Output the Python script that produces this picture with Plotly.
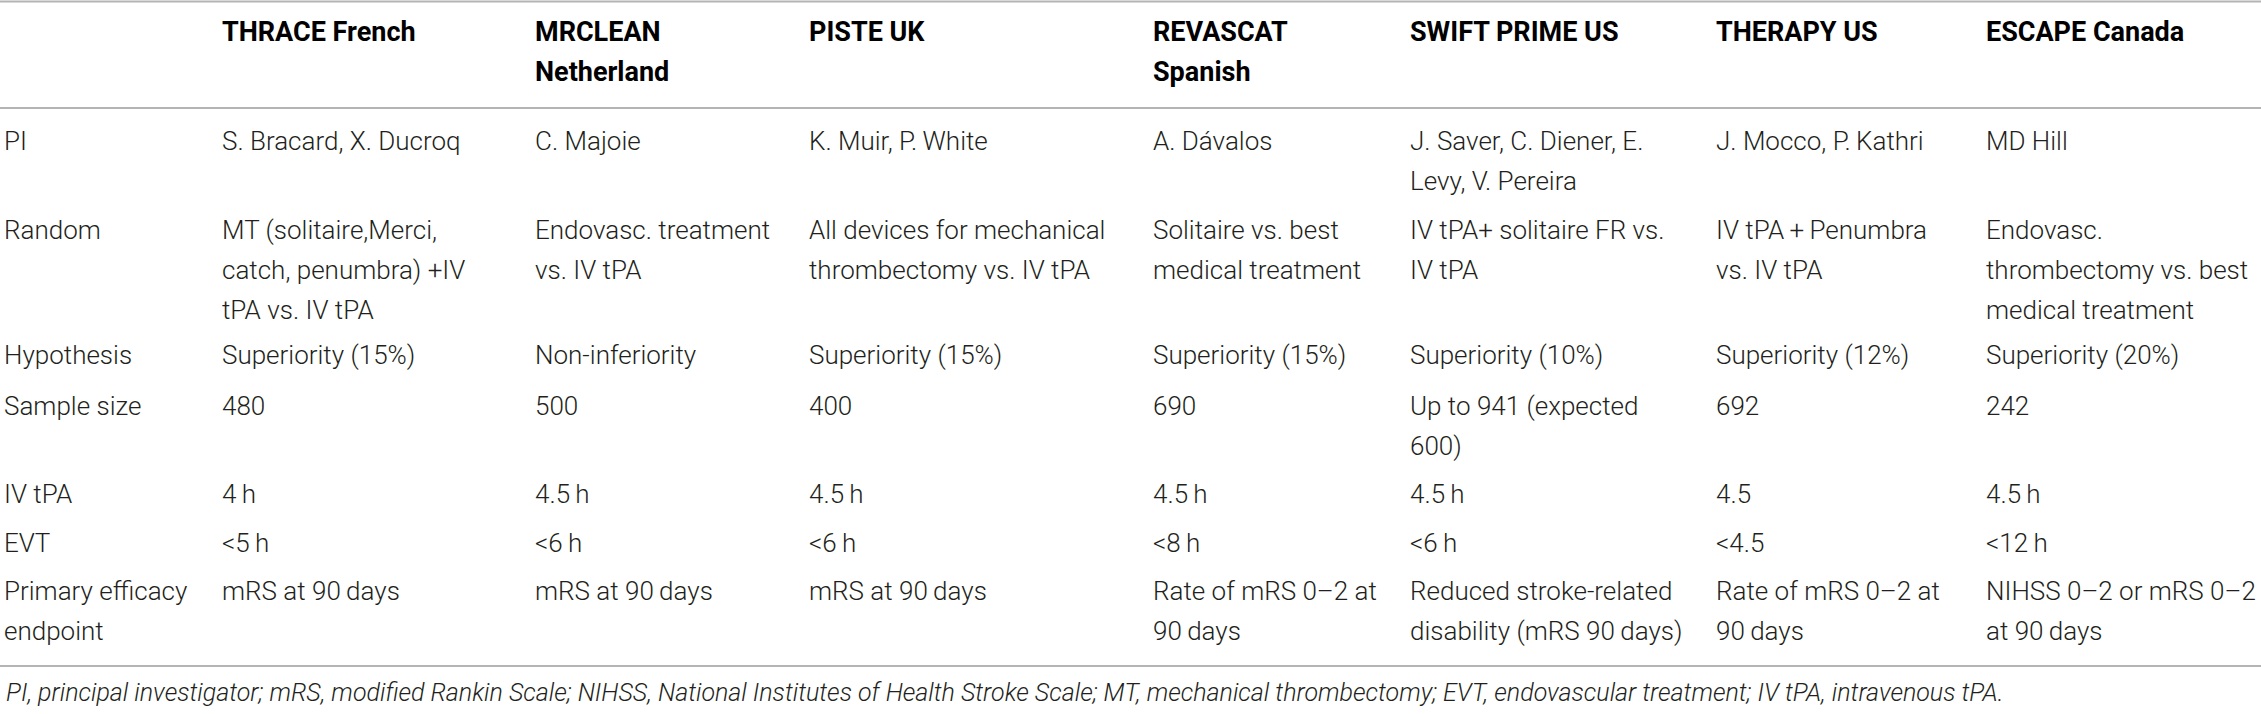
import plotly.graph_objects as go

W, H = 2261, 714

# ---- data ----
headers = ["THRACE French", "MRCLEAN<br>Netherland", "PISTE UK", "REVASCAT<br>Spanish",
           "SWIFT PRIME US", "THERAPY US", "ESCAPE Canada"]
row_labels = ["PI", "Random", "Hypothesis", "Sample size", "IV tPA", "EVT",
              "Primary efficacy<br>endpoint"]
thrace = ["S. Bracard, X. Ducroq", "MT (solitaire,Merci,<br>catch, penumbra) +IV<br>tPA vs. IV tPA",
          "Superiority (15%)", "480", "4\u2009h", "<5\u2009h", "mRS at 90\u2009days"]
mrclean = ["C. Majoie", "Endovasc. treatment<br>vs. IV tPA", "Non-inferiority", "500",
           "4.5\u2009h", "<6\u2009h", "mRS at 90\u2009days"]
piste = ["K. Muir, P.\u2009White", "All devices for mechanical<br>thrombectomy vs. IV tPA",
         "Superiority (15%)", "400", "4.5\u2009h", "<6\u2009h", "mRS at 90\u2009days"]
revascat = ["A. Dávalos", "Solitaire vs. best<br>medical treatment", "Superiority (15%)", "690",
            "4.5\u2009h", "<8\u2009h", "Rate of mRS 0–2 at<br>90\u2009days"]
swift = ["J. Saver, C. Diener, E.<br>Levy, V. Pereira", "IV tPA+ solitaire FR vs.<br>IV tPA",
         "Superiority (10%)", "Up to 941 (expected<br>600)", "4.5\u2009h", "<6\u2009h",
         "Reduced stroke-related<br>disability (mRS 90\u2009days)"]
therapy = ["J. Mocco, P.\u2009Kathri", "IV tPA\u2009+\u2009Penumbra<br>vs. IV tPA", "Superiority (12%)",
           "692", "4.5", "<4.5", "Rate of mRS 0–2 at<br>90\u2009days"]
escape = ["MD Hill", "Endovasc.<br>thrombectomy vs. best<br>medical treatment", "Superiority (20%)",
          "242", "4.5\u2009h", "<12\u2009h", "NIHSS 0–2 or mRS 0–2<br>at 90\u2009days"]
footnote = ("PI, principal investigator; mRS, modified Rankin Scale; NIHSS, National Institutes of "
            "Health Stroke Scale; MT, mechanical thrombectomy; EVT, endovascular treatment; "
            "IV tPA, intravenous tPA.")

columns = [thrace, mrclean, piste, revascat, swift, therapy, escape]

# ---- layout (pixel positions) ----
col_x = [2, 220, 533, 807, 1151, 1408, 1714, 1984]
header_y = 32
row_y = [141, 230, 355, 406, 494, 543, 591]
line_step = 40
rule_y = [1.5, 108, 666]
foot_y = 692

FONT = "Roboto, Liberation Sans, Arial, sans-serif"
BODY_SIZE = 26
HEAD_SIZE = 27
FOOT_SIZE = 25
TEXT_COL = "#231f20"

fig = go.Figure()
fig.add_trace(go.Scatter(x=[0, W], y=[0, H], mode="markers",
                         marker=dict(opacity=0), hoverinfo="skip", showlegend=False))

ann = []


def esc(s):
    return s.replace("<br>", "\n").replace("<", "&lt;").replace(">", "&gt;")


def add_cell(x, y, text, weight=300, style="normal", size=BODY_SIZE, color=TEXT_COL):
    for i, line in enumerate(esc(text).split("\n")):
        ann.append(dict(x=x, y=y + i * line_step, xref="x", yref="y", text=line,
                        showarrow=False, xanchor="left", yanchor="middle",
                        font=dict(family=FONT, size=size, color=color,
                                  weight=weight, style=style)))


for j, h in enumerate(headers):
    add_cell(col_x[j + 1], header_y, h, weight=700, size=HEAD_SIZE, color="#000000")

for i, lab in enumerate(row_labels):
    add_cell(col_x[0], row_y[i], lab)
    for j, col in enumerate(columns):
        add_cell(col_x[j + 1], row_y[i], col[i])

add_cell(col_x[0] + 2, foot_y, footnote, style="italic", size=FOOT_SIZE)

shapes = [dict(type="line", xref="x", yref="y", x0=0, x1=W, y0=yy, y1=yy,
               line=dict(color="#b4b4b4", width=2)) for yy in rule_y]

fig.update_layout(
    width=W, height=H, margin=dict(l=0, r=0, t=0, b=0),
    paper_bgcolor="white", plot_bgcolor="white",
    xaxis=dict(range=[0, W], visible=False, fixedrange=True),
    yaxis=dict(range=[H, 0], visible=False, fixedrange=True),
    annotations=ann, shapes=shapes, showlegend=False,
)

fig.write_html("out.html", config={"displayModeBar": False},
               post_script="document.body.style.margin='0';document.body.style.overflow='hidden';")
